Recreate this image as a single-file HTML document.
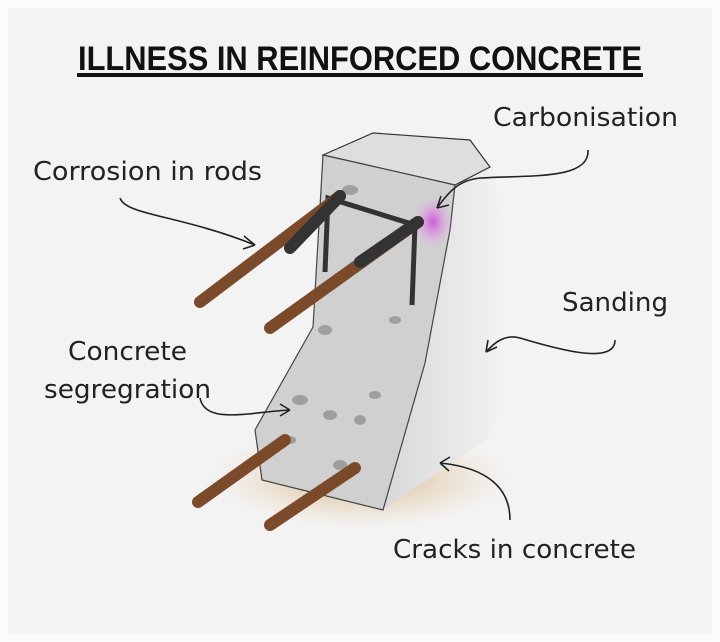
<!DOCTYPE html>
<html><head><meta charset="utf-8"><style>
html,body{margin:0;padding:0;background:#f4f4f4;}
svg{display:block;}
text{font-family:"DejaVu Sans","Liberation Sans",sans-serif;fill:#222;}
</style></head><body>
<svg width="720" height="642" viewBox="0 0 720 642" xmlns="http://www.w3.org/2000/svg">
<defs>
<radialGradient id="sh" cx="50%" cy="50%" r="50%"><stop offset="0" stop-color="#c89a5c" stop-opacity="0.8"/><stop offset="1" stop-color="#e8cfa8" stop-opacity="0"/></radialGradient>
<radialGradient id="pk" cx="50%" cy="50%" r="50%"><stop offset="0" stop-color="#d05ad8"/><stop offset="1" stop-color="#e8a8ee" stop-opacity="0"/></radialGradient>
<linearGradient id="side" x1="0" x2="1"><stop offset="0" stop-color="#d8d8d8"/><stop offset="1" stop-color="#f2f2f2"/></linearGradient>
</defs>
<rect x="0" y="0" width="720" height="642" fill="#fbfbfb"/>
<rect x="8" y="8" width="704" height="626" fill="#f3f3f3"/>
<text x="360" y="70" text-anchor="middle" font-weight="bold" font-size="34" textLength="564" lengthAdjust="spacingAndGlyphs" style="font-family:'Liberation Sans',sans-serif;fill:#111">ILLNESS IN REINFORCED CONCRETE</text>
<rect x="77" y="73" width="566" height="4" fill="#111"/>
<ellipse cx="360" cy="478" rx="150" ry="50" fill="url(#sh)"/>
<path d="M455,185 L492,165 L500,205 L503,407 L486,440 L383,510 L425,363 L450,230 Z" fill="url(#side)"/>
<path d="M323,155 L373,133 L470,140 L490,167 L455,185 Z" fill="#dedede" stroke="#333" stroke-width="1.2"/>
<path d="M323,155 L455,185 L450,230 L425,363 L383,510 L262,480 L255,430 L313,327 Z" fill="#d0d0d0" stroke="#444" stroke-width="1.2"/>
<g fill="#8a8a8a" opacity="0.7">
<ellipse cx="325" cy="330" rx="7" ry="5"/><ellipse cx="300" cy="400" rx="8" ry="5"/><ellipse cx="330" cy="415" rx="7" ry="5"/><ellipse cx="360" cy="420" rx="6" ry="5"/><ellipse cx="290" cy="440" rx="6" ry="4"/><ellipse cx="340" cy="465" rx="7" ry="5"/><ellipse cx="375" cy="395" rx="6" ry="4"/><ellipse cx="395" cy="320" rx="6" ry="4"/><ellipse cx="350" cy="190" rx="8" ry="5"/>
</g>
<ellipse cx="433" cy="222" rx="20" ry="26" fill="url(#pk)"/>
<path d="M325,272 L328,198 L415,225 L412,305" fill="none" stroke="#333" stroke-width="5"/>
<g stroke-linecap="round">
<line x1="200" y1="302" x2="340" y2="196" stroke="#7a4a2a" stroke-width="12"/>
<line x1="270" y1="328" x2="418" y2="222" stroke="#7a4a2a" stroke-width="12"/>
<line x1="290" y1="248" x2="340" y2="196" stroke="#333" stroke-width="12"/>
<line x1="360" y1="262" x2="418" y2="222" stroke="#333" stroke-width="12"/>
<line x1="198" y1="502" x2="285" y2="440" stroke="#7a4a2a" stroke-width="12"/>
<line x1="270" y1="525" x2="355" y2="468" stroke="#7a4a2a" stroke-width="12"/>
</g>
<text x="493" y="126" font-size="26" textLength="185" lengthAdjust="spacingAndGlyphs">Carbonisation</text>
<text x="33" y="180" font-size="26" textLength="229" lengthAdjust="spacingAndGlyphs">Corrosion in rods</text>
<text x="562" y="311" font-size="26" textLength="106" lengthAdjust="spacingAndGlyphs">Sanding</text>
<text x="68" y="360" font-size="26" textLength="119" lengthAdjust="spacingAndGlyphs">Concrete</text>
<text x="44" y="398" font-size="26" textLength="167" lengthAdjust="spacingAndGlyphs">segregration</text>
<text x="393" y="558" font-size="26" textLength="243" lengthAdjust="spacingAndGlyphs">Cracks in concrete</text>
<g fill="none" stroke="#222" stroke-width="1.6">
<path d="M588,150 C590,180 530,175 480,178 C460,180 450,190 437,208"/>
<path d="M437,208 l4,-12 M437,208 l12,-3"/>
<path d="M120,198 C125,215 180,215 255,245"/>
<path d="M255,245 l-11,-9 M255,245 l-12,4"/>
<path d="M615,340 C615,365 560,350 520,338 C505,334 495,342 486,352"/>
<path d="M486,352 l2,-12 M486,352 l11,-5"/>
<path d="M200,398 C205,425 250,412 290,410"/>
<path d="M290,410 l-10,-6 M290,410 l-10,6"/>
<path d="M510,520 C510,490 490,468 440,463"/>
<path d="M440,463 l10,-6 M440,463 l9,8"/>
</g>
</svg>
</body></html>
